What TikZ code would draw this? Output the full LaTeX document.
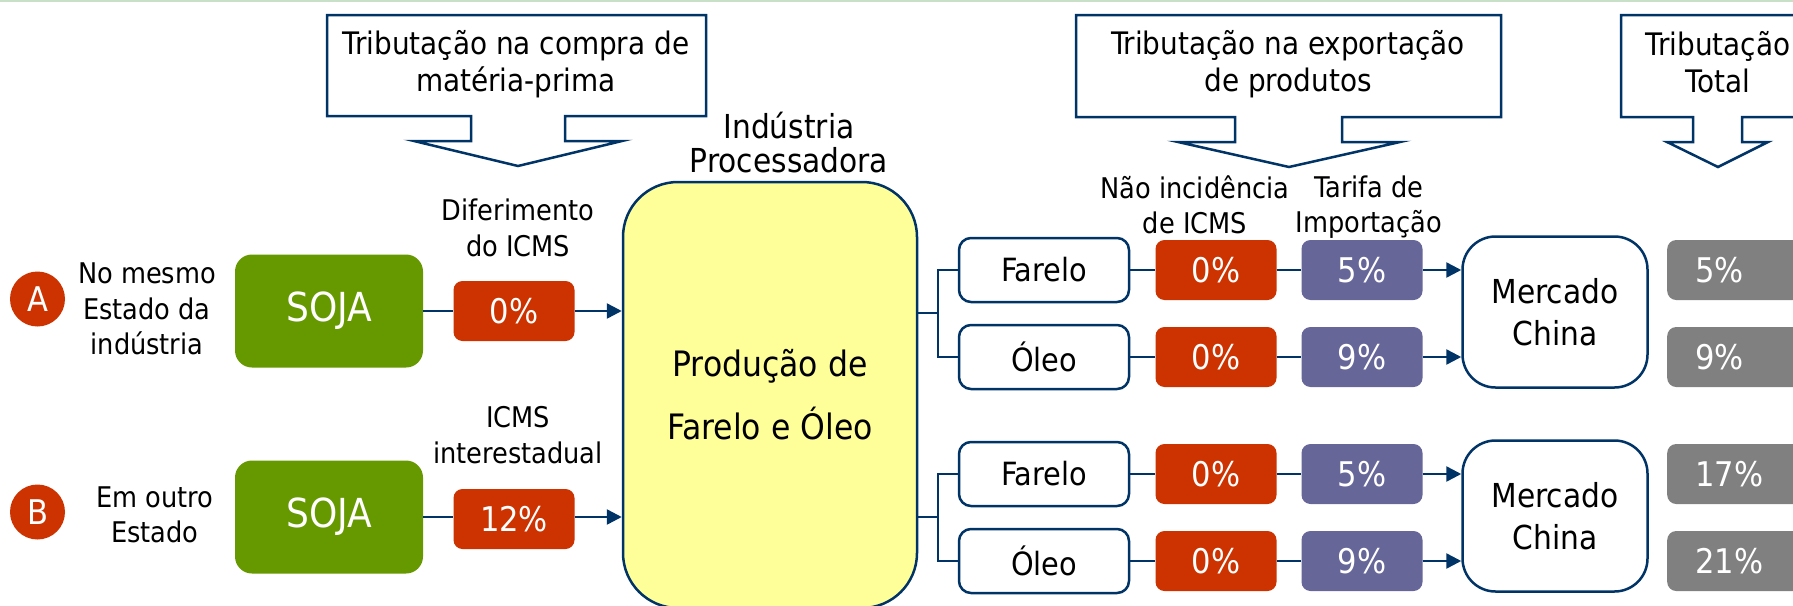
\documentclass[tikz,border=0pt]{standalone}
\usepackage{fontspec}
\setmainfont{DejaVu Sans Condensed}
\usetikzlibrary{arrows.meta}

\definecolor{azul}{RGB}{0,51,102}
\definecolor{vermelho}{RGB}{204,51,0}
\definecolor{verde}{RGB}{102,153,0}
\definecolor{roxo}{RGB}{102,102,153}
\definecolor{cinza}{RGB}{128,128,128}
\definecolor{amarelo}{RGB}{255,255,153}
\definecolor{verdeclaro}{RGB}{200,224,200}

\begin{document}
\begin{tikzpicture}[x=1pt,y=-1pt]
    % 样式
    \tikzset{
        line/.style={draw=azul, line width=2.5pt},
        arr/.style={line, -{Triangle[length=15pt,width=15pt]}},
        callout/.style={draw=azul, line width=2.5pt, fill=white},
        callouttext/.style={align=center, font=\fontsize{31}{37}\selectfont},
        label/.style={align=center, font=\fontsize{28.5}{35.5}\selectfont},
        circ/.style={circle, fill=vermelho, minimum size=55pt, inner sep=0pt, text=white, font=\fontsize{34}{40}\selectfont},
        soja/.style={fill=verde, rounded corners=17pt, minimum width=188pt, minimum height=113pt, inner sep=0pt, text=white, font=\fontsize{40}{48}\selectfont},
        taxbox/.style={rounded corners=9pt, minimum width=121pt, minimum height=60pt, inner sep=0pt, text=white, font=\fontsize{34}{40}\selectfont},
        redbox/.style={taxbox, fill=vermelho},
        purplebox/.style={taxbox, fill=roxo},
        greybox/.style={taxbox, fill=cinza, anchor=west, text width=114pt, align=left, inner xsep=28pt},
        prodbox/.style={line, fill=white, rounded corners=12pt, minimum width=170pt, minimum height=64pt, inner sep=0pt, font=\fontsize{32}{38}\selectfont},
        mercado/.style={line, fill=white, rounded corners=33pt, minimum width=185pt, minimum height=151pt, align=center, font=\fontsize{33}{42}\selectfont},
        fabrica/.style={line, fill=amarelo, rounded corners=55pt, minimum width=294pt, minimum height=426pt, align=center, font=\fontsize{35}{63}\selectfont},
    }

    \useasboundingbox (0,0) rectangle (1793,605);
    \clip (0,0) rectangle (1793,605);

    % 顶部细线
    \draw[verdeclaro, line width=2pt] (0,1) -- (1793,1);

    % 标注框 (带向下箭头)
    \draw[callout] (327,15) -- (706,15) -- (706,116) -- (565,116) -- (565,141) -- (622,141)
        -- (518,166) -- (414,141) -- (471,141) -- (471,116) -- (327,116) -- cycle;
    \node[callouttext] (tribcompra) at (516,64) {Tributação na compra de\\matéria-prima};

    \draw[callout] (1076,15) -- (1501,15) -- (1501,117) -- (1342,117) -- (1342,142) -- (1400,142)
        -- (1289,167) -- (1178,142) -- (1235,142) -- (1235,117) -- (1076,117) -- cycle;
    \node[callouttext] (tribexport) at (1288,64) {Tributação na exportação\\de produtos};

    \draw[callout] (1621,15) -- (1814,15) -- (1814,117) -- (1742,117) -- (1742,142) -- (1768,142)
        -- (1718,167) -- (1667,142) -- (1693,142) -- (1693,117) -- (1621,117) -- cycle;
    \node[callouttext] (tribtotal) at (1718,62) {Tributação\\Total};

    % 左侧: 原料来源
    \node[circ] (casoA) at (37.5,299) {A};
    \node[circ] (casoB) at (37.5,512) {B};
    \node[label] (origemA) at (147,309) {No mesmo\\Estado da\\indústria};
    \node[label] (origemB) at (155,515) {Em outro\\Estado};

    \node[soja] (sojaA) at (329,311) {SOJA};
    \node[soja] (sojaB) at (329,517) {SOJA};
    \node[redbox] (icmsA) at (514,311) {0\%};
    \node[redbox] (icmsB) at (514,519) {12\%};
    \node[label] (diferimento) at (518,228) {Diferimento\\do ICMS};
    \node[label] (interestadual) at (518,435) {ICMS\\interestadual};

    % 加工厂
    \node[fabrica] (fab) at (770,395) {Produção de\\Farelo e Óleo};
    \node[align=center, font=\fontsize{33}{34}\selectfont] (industria) at (789,143) {Indústria\\Processadora};

    \draw[line] (sojaA) -- (icmsA);
    \draw[arr] (icmsA) -- (icmsA -| fab.west);
    \draw[line] (sojaB.east) -- (sojaB.east -| icmsB.west);
    \draw[arr] (icmsB.east |- sojaB) -- (sojaB -| fab.west);

    % 出口
    \node[label] (naoincid) at (1195,205) {Não incidência\\de ICMS};
    \node[label] (tarifa) at (1369,207) {Tarifa de\\Importação};
    \node[mercado] (mercA) at (1555,312) {Mercado\\China};
    \node[mercado] (mercB) at (1555,516) {Mercado\\China};

    \foreach \n/\y/\produto/\taxa/\soma/\merc in {1/270/Farelo/5/5/mercA, 2/357/Óleo/9/9/mercA, 3/474/Farelo/5/17/mercB, 4/561/Óleo/9/21/mercB} {
        \node[prodbox] (prod\n) at (1044,\y) {\produto};
        \node[redbox] (exp\n) at (1216,\y) {0\%};
        \node[purplebox] (tar\n) at (1362,\y) {\taxa\%};
        \node[greybox] (tot\n) at (1667,\y) {\soma\%};
        \draw[line] (prod\n) -- (exp\n);
        \draw[line] (exp\n) -- (tar\n);
        \draw[arr] (tar\n) -- (tar\n -| \merc.west);
    }

    % 分支线
    \coordinate (brA) at (938,313);
    \coordinate (brB) at (938,517);
    \draw[line] (prod1.west) -| (brA) |- (prod2.west);
    \draw[line] (brA) -- (brA -| fab.east);
    \draw[line] (prod3.west) -| (brB) |- (prod4.west);
    \draw[line] (brB) -- (brB -| fab.east);
\end{tikzpicture}
\end{document}
